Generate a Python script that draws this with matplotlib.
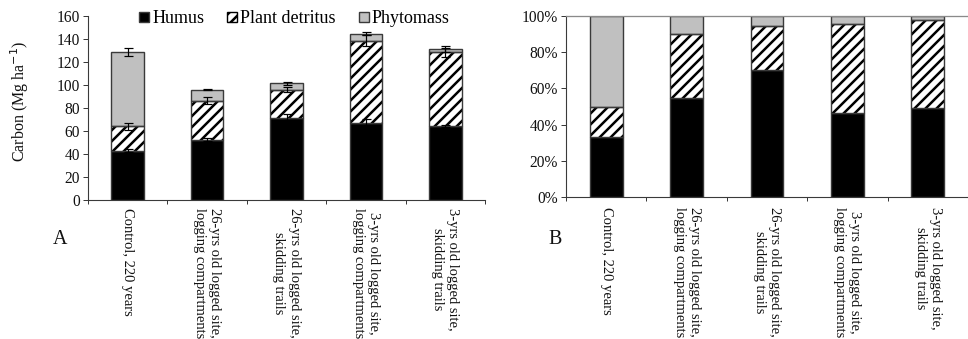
import matplotlib
matplotlib.use('Agg')
import matplotlib.pyplot as plt
import numpy as np
from matplotlib.patches import Patch

DPI = 66
W, H = 968, 339


def pt(px):
    return px * 72.0 / DPI


# ---------------- data ----------------
categories = ["Control, 220 years",
              "26-yrs old logged site,\nlogging compartments",
              "26-yrs old logged site,\nskidding trails",
              "3-yrs old logged site,\nlogging compartments",
              "3-yrs old logged site,\nskidding trails"]
series_names = ["Humus", "Plant detritus", "Phytomass"]
humus = [43, 52.5, 71, 67, 64.5]
detritus = [21, 34, 25, 71.5, 64]
phytomass = [65, 9.5, 5.5, 6, 3]
humus_err = [1.5, 1.5, 3.5, 3, 1]
detritus_err = [3, 2.7, 2.2, 5, 4]
phytomass_err = [3.5, 0.7, 1.2, 1.2, 2.5]
a_yticks = [0, 20, 40, 60, 80, 100, 120, 140, 160]
b_yticks = [0, 0.2, 0.4, 0.6, 0.8, 1.0]
b_yticklabels = ["0%", "20%", "40%", "60%", "80%", "100%"]

plt.rcParams['font.family'] = ['Liberation Serif', 'DejaVu Serif']
plt.rcParams['hatch.linewidth'] = pt(2.5)
plt.rcParams['hatch.color'] = 'black'

fig = plt.figure(figsize=(W / DPI, H / DPI), dpi=DPI)

def axes_px(l, t, r, b):
    return fig.add_axes([l / W, 1 - b / H, (r - l) / W, (b - t) / H])

axA = axes_px(88, 16, 485, 200)
axB = axes_px(566, 16, 968, 197)

x = np.arange(len(categories))
bw = 0.41
edge = '#3a3a3a'
elw = pt(1.4)
gray = '#c0c0c0'
HATCH = '//'

def stacked(ax, h, d, p):
    h = np.asarray(h, float); d = np.asarray(d, float); p = np.asarray(p, float)
    ax.bar(x, h, bw, color='black', edgecolor=edge, linewidth=elw, zorder=2)
    ax.bar(x, d, bw, bottom=h, color='white', edgecolor='black', linewidth=0,
           hatch=HATCH, zorder=2)
    ax.bar(x, d, bw, bottom=h, fill=False, edgecolor=edge, linewidth=elw, zorder=2.5)
    ax.bar(x, p, bw, bottom=h + d, color=gray, edgecolor=edge, linewidth=elw, zorder=2)
    return h, d, p

# ---------- panel A ----------
h, d, p = stacked(axA, humus, detritus, phytomass)
ekw = dict(fmt='none', ecolor='black', elinewidth=pt(1.2), capsize=pt(4.5),
           capthick=pt(1.2), zorder=4)
axA.errorbar(x, h, yerr=humus_err, **ekw)
axA.errorbar(x, h + d, yerr=detritus_err, **ekw)
axA.errorbar(x, h + d + p, yerr=phytomass_err, **ekw)
axA.set_ylim(0, 160)
axA.set_yticks(a_yticks)
axA.set_xlim(-0.5, (485 - 88) / 82.0 - 0.5)

# ---------- panel B ----------
tot = h + d + p
stacked(axB, h / tot, d / tot, p / tot)
axB.set_ylim(0, 1.0)
axB.set_yticks(b_yticks)
axB.set_yticklabels(b_yticklabels)
axB.set_xlim(-0.5, (968 - 566) / 82.3 - 0.5)

tick_fs = pt(15.5)
cat_fs = pt(14.6)
for ax, pad in ((axA, 8), (axB, 10)):
    for s in ('top', 'right'):
        ax.spines[s].set_visible(False)
    ax.spines['left'].set_color(edge)
    ax.spines['bottom'].set_color(edge)
    ax.spines['left'].set_linewidth(pt(1.1))
    ax.spines['bottom'].set_linewidth(pt(1.1))
    ax.set_xticks(np.arange(-0.5, len(categories) - 0.4, 1.0))
    ax.set_xticklabels([])
    ax.set_xticks(x, minor=True)
    ax.set_xticklabels(categories, minor=True, rotation=270, va='top', ha='center',
                       multialignment='center', fontsize=cat_fs, color='#111111')
    ax.tick_params(axis='x', which='major', length=pt(4), width=pt(1), color=edge, direction='out')
    ax.tick_params(axis='x', which='minor', length=0, pad=pt(pad))
    ax.tick_params(axis='y', length=pt(5), width=pt(1), color=edge, direction='out',
                   pad=pt(3), labelsize=tick_fs, labelcolor='#111111')

axB.spines['top'].set_visible(True)
axB.spines['top'].set_color('#8a8a8a')
axB.spines['top'].set_linewidth(pt(1.3))

# y label
fig.text(20 / W, 1 - 101 / H, 'Carbon (Mg ha$^{-1}$)', rotation=90, ha='center', va='center',
         fontsize=pt(16), color='#111111')

# panel letters
fig.text(60 / W, 1 - 240 / H, 'A', ha='center', va='center', fontsize=pt(20), color='#111111')
fig.text(555 / W, 1 - 240 / H, 'B', ha='center', va='center', fontsize=pt(20), color='#111111')

# legend
handles = [Patch(facecolor='black', edgecolor=edge, linewidth=elw),
           Patch(facecolor='white', edgecolor='black', hatch=HATCH, linewidth=elw),
           Patch(facecolor=gray, edgecolor=edge, linewidth=elw)]
axA.legend(handles, series_names, loc='center', bbox_to_anchor=(0.52, 0.985), ncol=3,
           frameon=False, fontsize=pt(18), handlelength=0.55, handleheight=0.45,
           handletextpad=0.15, columnspacing=1.3, borderaxespad=0, borderpad=0)

fig.savefig('out.png', dpi=DPI)
